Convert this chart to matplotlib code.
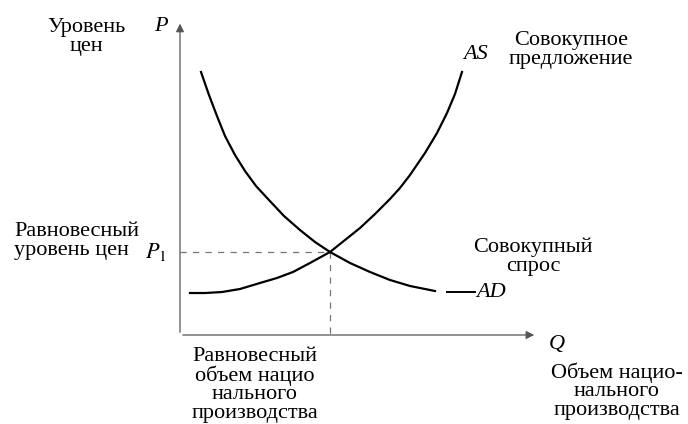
import matplotlib
matplotlib.use("Agg")
import matplotlib.pyplot as plt

plt.rcParams['font.family'] = ['Liberation Serif', 'DejaVu Serif']
plt.rcParams['mathtext.fontset'] = 'stix'

# Aggregate demand (AD) and aggregate supply (AS), Q vs P
ad_q = [0.588, 0.812, 1.036, 1.261, 1.541, 1.821, 2.129, 2.465, 2.913,
        3.361, 3.782, 4.202, 4.762, 5.322, 5.882, 6.443, 7.143]
ad_p = [7.367, 6.723, 6.134, 5.574, 5.042, 4.594, 4.174, 3.810, 3.333,
        2.941, 2.605, 2.325, 2.017, 1.765, 1.541, 1.373, 1.232]

as_q = [0.280, 0.700, 1.176, 1.681, 2.241, 2.717, 3.165, 3.641, 4.202, 4.622,
        5.042, 5.462, 5.882, 6.162, 6.443, 6.863, 7.199, 7.479, 7.703, 7.899]
as_p = [1.176, 1.176, 1.204, 1.289, 1.457, 1.597, 1.765, 2.017, 2.325, 2.661,
        2.997, 3.389, 3.810, 4.118, 4.482, 5.098, 5.658, 6.218, 6.751, 7.367]

q_eq, p_eq = 4.202, 2.325
q_max, p_max = 10.0, 8.8

fig = plt.figure(figsize=(6.88, 4.24), dpi=100)
ax = fig.add_axes([0, 0, 1, 1])
ax.set_xlim(-5.042, 14.230)
ax.set_ylim(-2.493, 9.384)
ax.axis('off')

# axes with arrows
ax.annotate('', xy=(q_max, 0), xytext=(0, 0),
            arrowprops=dict(arrowstyle='-|>', color='#555555', lw=0.9,
                            mutation_scale=12))
ax.annotate('', xy=(0, p_max), xytext=(0, 0),
            arrowprops=dict(arrowstyle='-|>', color='#555555', lw=0.9,
                            mutation_scale=12))

# equilibrium guides
ax.plot([0, q_eq], [p_eq, p_eq], ls=(0, (5, 5)), color='#777777', lw=0.9)
ax.plot([q_eq, q_eq], [p_eq, 0], ls=(0, (5, 5)), color='#777777', lw=0.9)

ax.plot(ad_q, ad_p, color='black', lw=1.6, solid_joinstyle='round')
ax.plot(as_q, as_p, color='black', lw=1.6, solid_joinstyle='round')
ax.plot([7.48, 8.26], [1.20, 1.20], color='black', lw=1.4)

fs = 16
ax.text(-2.63, 8.35, 'Уровень\nцен', ha='center', va='center', fontsize=fs,
        linespacing=1.0)
ax.text(-0.53, 8.63, 'P', ha='center', va='center', fontsize=fs, style='italic')
ax.text(8.29, 7.87, 'AS', ha='center', va='center', fontsize=fs, style='italic')
ax.text(10.95, 7.98, 'Совокупное\nпредложение', ha='center', va='center',
        fontsize=fs, linespacing=1.0)
ax.text(-4.65, 2.63, 'Равновесный\nуровень цен', ha='left', va='center',
        fontsize=fs, linespacing=1.05)
ax.text(-0.67, p_eq, '$P_1$', ha='center', va='center', fontsize=fs)
ax.text(9.89, 2.18, 'Совокупный\nспрос', ha='center', va='center',
        fontsize=fs, linespacing=1.0)
ax.text(8.30, 1.20, 'AD', ha='left', va='center', fontsize=fs, style='italic')
ax.text(10.56, -0.28, 'Q', ha='center', va='center', fontsize=fs, style='italic')
ax.text(12.24, -1.57, 'Объем нацио-\nнального\nпроизводства', ha='center',
        va='center', fontsize=fs, linespacing=0.95)
ax.text(2.10, -1.40, 'Равновесный\nобъем нацио\nнального\nпроизводства',
        ha='center', va='center', fontsize=fs, linespacing=0.95)

fig.savefig('out.png', dpi=100)
